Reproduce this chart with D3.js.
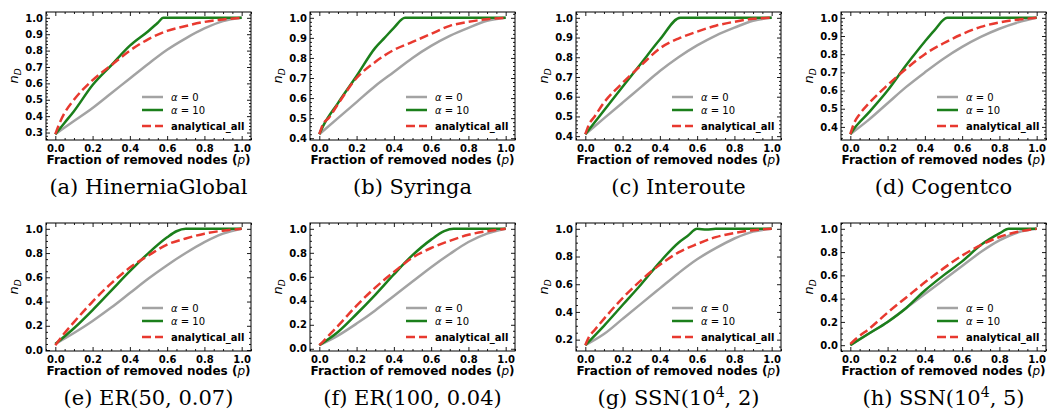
<!DOCTYPE html>
<html>
<head>
<meta charset="utf-8">
<script src="https://cdn.jsdelivr.net/npm/d3@7"></script>
<style>
  body { margin: 0; background: #fff; }
</style>
</head>
<body>
<script>
// captions under each panel ("^4" becomes a superscript)
var captions = ["(a) HinerniaGlobal", "(b) Syringa", "(c) Interoute", "(d) Cogentco",
                "(e) ER(50, 0.07)", "(f) ER(100, 0.04)", "(g) SSN(10^4, 2)", "(h) SSN(10^4, 5)"];

// p grids
var grayP = [0, 0.1, 0.2, 0.3, 0.4, 0.5, 0.6, 0.7, 0.8, 0.9, 1.0];
var redP  = [0, 0.02, 0.05, 0.1, 0.2, 0.3, 0.4, 0.5, 0.6, 0.7, 0.8, 0.9, 1.0];

// alpha = 0 (gray)
var alpha0 = [
    [0.29, 0.37, 0.45, 0.54, 0.63, 0.72, 0.805, 0.875, 0.935, 0.98, 1.0],
    [0.42, 0.50, 0.58, 0.66, 0.73, 0.80, 0.86, 0.91, 0.95, 0.985, 1.0],
    [0.41, 0.49, 0.57, 0.65, 0.73, 0.80, 0.86, 0.91, 0.95, 0.985, 1.0],
    [0.36, 0.44, 0.53, 0.62, 0.70, 0.775, 0.84, 0.895, 0.94, 0.975, 1.0],
    [0.05, 0.14, 0.24, 0.35, 0.47, 0.59, 0.70, 0.80, 0.89, 0.96, 1.0],
    [0.03, 0.11, 0.21, 0.32, 0.44, 0.56, 0.68, 0.79, 0.89, 0.96, 1.0],
    [0.16, 0.24, 0.35, 0.46, 0.57, 0.68, 0.78, 0.86, 0.93, 0.98, 1.0],
    [0.00, 0.10, 0.20, 0.32, 0.44, 0.56, 0.68, 0.80, 0.90, 0.97, 1.0]
];

// analytical_all (red dashed)
var analytical = [
    [0.29, 0.35, 0.42, 0.50, 0.62, 0.71, 0.80, 0.87, 0.92, 0.95, 0.975, 0.99, 1.0],
    [0.42, 0.47, 0.50, 0.57, 0.70, 0.78, 0.84, 0.88, 0.92, 0.96, 0.98, 0.993, 1.0],
    [0.41, 0.46, 0.50, 0.57, 0.67, 0.76, 0.845, 0.895, 0.93, 0.96, 0.98, 0.995, 1.0],
    [0.36, 0.42, 0.47, 0.53, 0.63, 0.72, 0.80, 0.86, 0.91, 0.95, 0.975, 0.99, 1.0],
    [0.04, 0.08, 0.14, 0.23, 0.40, 0.55, 0.68, 0.78, 0.87, 0.92, 0.96, 0.985, 1.0],
    [0.03, 0.06, 0.11, 0.19, 0.36, 0.51, 0.64, 0.76, 0.84, 0.90, 0.95, 0.98, 1.0],
    [0.16, 0.22, 0.27, 0.35, 0.50, 0.63, 0.74, 0.83, 0.89, 0.94, 0.97, 0.99, 1.0],
    [0.01, 0.04, 0.08, 0.14, 0.28, 0.41, 0.54, 0.66, 0.77, 0.86, 0.93, 0.975, 1.0]
];

// alpha = 10 (green), each with its own p points
var alpha10P = [
    [0, 0.05, 0.1, 0.2, 0.3, 0.4, 0.5, 0.55, 0.58, 0.62, 0.7, 1.0],
    [0, 0.02, 0.1, 0.2, 0.3, 0.35, 0.4, 0.46, 0.5, 1.0],
    [0, 0.1, 0.2, 0.3, 0.4, 0.51, 0.6, 1.0],
    [0, 0.02, 0.1, 0.2, 0.3, 0.33, 0.4, 0.45, 0.52, 0.6, 1.0],
    [0, 0.1, 0.2, 0.3, 0.4, 0.5, 0.6, 0.65, 0.7, 0.8, 1.0],
    [0, 0.1, 0.2, 0.3, 0.4, 0.5, 0.6, 0.67, 0.72, 0.8, 1.0],
    [0, 0.1, 0.2, 0.3, 0.4, 0.5, 0.55, 0.6, 0.65, 0.7, 1.0],
    [0, 0.1, 0.2, 0.3, 0.4, 0.5, 0.6, 0.7, 0.8, 0.85, 1.0]
];
var alpha10 = [
    [0.29, 0.36, 0.43, 0.59, 0.71, 0.83, 0.92, 0.97, 1.0, 1.0, 1.0, 1.0],
    [0.42, 0.46, 0.575, 0.71, 0.85, 0.90, 0.95, 1.0, 1.0, 1.0],
    [0.41, 0.53, 0.65, 0.77, 0.89, 1.0, 1.0, 1.0],
    [0.36, 0.39, 0.48, 0.60, 0.74, 0.78, 0.87, 0.93, 1.0, 1.0, 1.0],
    [0.05, 0.18, 0.33, 0.49, 0.65, 0.80, 0.93, 0.98, 1.0, 1.0, 1.0],
    [0.03, 0.14, 0.29, 0.45, 0.62, 0.78, 0.91, 0.98, 1.0, 1.0, 1.0],
    [0.16, 0.30, 0.45, 0.60, 0.76, 0.90, 0.95, 1.0, 0.995, 1.0, 1.0],
    [0.00, 0.10, 0.20, 0.32, 0.47, 0.60, 0.72, 0.86, 0.96, 1.0, 1.0]
];

var xTicks = [0, 0.2, 0.4, 0.6, 0.8, 1.0];
var yTickSteps = [0.1, 0.1, 0.1, 0.1, 0.2, 0.2, 0.2, 0.2];
var legendLabels = ["α = 0", "α = 10", "analytical_all"];

var w = 1049,
    h = 417,
    pw = 205,
    ph = 128,
    colLeft = [46, 310, 576, 841],
    rowTop = [12, 223],
    captionY = [194, 405];

var gray = "#a3a3a3", green = "#1b7f1b", red = "#e8392f";

var svg = d3.select("body").append("svg")
    .attr("width", w)
    .attr("height", h)
    .attr("font-family", "DejaVu Sans");

function stepRange(lo, hi, step) {
    var a = Math.ceil(lo / step - 1e-6), b = Math.floor(hi / step + 1e-6);
    return d3.range(a, b + 1).map(function(k) { return +(k * step).toFixed(3); });
}

function styleAxis(sel) {
    sel.select(".domain").remove();
    sel.attr("font-family", null).attr("font-size", null);
    sel.selectAll("line").attr("stroke", "#000").attr("stroke-width", 0.9);
    sel.selectAll("text")
        .attr("font-family", "DejaVu Sans")
        .attr("font-weight", "bold")
        .attr("font-size", "10px")
        .attr("fill", "#000");
}

captions.forEach(function(cap, i) {
    var col = i % 4, row = Math.floor(i / 4);
    var g = svg.append("g")
        .attr("transform", "translate(" + colLeft[col] + "," + rowTop[row] + ")");

    var grayPts = grayP.map(function(p, k) { return [p, alpha0[i][k]]; });
    var redPts = redP.map(function(p, k) { return [p, analytical[i][k]]; });
    var greenPts = alpha10P[i].map(function(p, k) { return [p, alpha10[i][k]]; });

    var all = alpha0[i].concat(analytical[i], alpha10[i]);
    var lo = d3.min(all), hi = d3.max(all), pad = 0.05 * (hi - lo);

    var x = d3.scaleLinear().domain([-0.05, 1.05]).range([0, pw]);
    var y = d3.scaleLinear().domain([lo - pad, hi + pad]).range([ph, 0]);

    var step = yTickSteps[i];
    var yMajor = stepRange(lo - pad, hi + pad, step);
    var yMinor = stepRange(lo - pad, hi + pad, step === 0.1 ? 0.02 : 0.05)
        .filter(function(v) { return yMajor.indexOf(v) < 0; });
    var xMinor = stepRange(-0.05, 1.05, 0.05)
        .filter(function(v) { return xTicks.indexOf(v) < 0; });

    // minor ticks
    g.append("g").attr("transform", "translate(0," + ph + ")")
        .call(d3.axisBottom(x).tickValues(xMinor).tickSize(-2).tickFormat(""))
        .call(styleAxis);
    g.append("g")
        .call(d3.axisTop(x).tickValues(xMinor).tickSize(-2).tickFormat(""))
        .call(styleAxis);
    g.append("g")
        .call(d3.axisLeft(y).tickValues(yMinor).tickSize(-2).tickFormat(""))
        .call(styleAxis);
    g.append("g").attr("transform", "translate(" + pw + ",0)")
        .call(d3.axisRight(y).tickValues(yMinor).tickSize(-2).tickFormat(""))
        .call(styleAxis);

    // major ticks
    g.append("g").attr("transform", "translate(0," + ph + ")")
        .call(d3.axisBottom(x).tickValues(xTicks).tickSize(-4).tickPadding(5).tickFormat(d3.format(".1f")))
        .call(styleAxis);
    g.append("g")
        .call(d3.axisTop(x).tickValues(xTicks).tickSize(-4).tickFormat(""))
        .call(styleAxis);
    g.append("g")
        .call(d3.axisLeft(y).tickValues(yMajor).tickSize(-4).tickPadding(3).tickFormat(d3.format(".1f")))
        .call(styleAxis);
    g.append("g").attr("transform", "translate(" + pw + ",0)")
        .call(d3.axisRight(y).tickValues(yMajor).tickSize(-4).tickFormat(""))
        .call(styleAxis);

    var line = d3.line()
        .x(function(d) { return x(d[0]); })
        .y(function(d) { return y(d[1]); })
        .curve(d3.curveMonotoneX);

    g.append("path").datum(grayPts)
        .attr("d", line).attr("fill", "none")
        .attr("stroke", gray).attr("stroke-width", 2.5);
    g.append("path").datum(greenPts)
        .attr("d", line).attr("fill", "none")
        .attr("stroke", green).attr("stroke-width", 2.5);
    g.append("path").datum(redPts)
        .attr("d", line).attr("fill", "none")
        .attr("stroke", red).attr("stroke-width", 2.5)
        .attr("stroke-dasharray", "9,4");

    // frame
    g.append("rect")
        .attr("width", pw).attr("height", ph)
        .attr("fill", "none").attr("stroke", "#000").attr("stroke-width", 1);

    // legend
    var legY = [ph - 43, ph - 30, ph - 14];
    var legColors = [gray, green, red];
    legendLabels.forEach(function(lab, k) {
        g.append("line")
            .attr("x1", pw - 109).attr("x2", pw - 88)
            .attr("y1", legY[k]).attr("y2", legY[k])
            .attr("stroke", legColors[k]).attr("stroke-width", 2.5)
            .attr("stroke-dasharray", k === 2 ? "9,4" : null);
        var t = g.append("text")
            .attr("x", pw - 80).attr("y", legY[k])
            .attr("dy", "0.35em")
            .attr("font-size", "10px");
        if (k < 2) {
            t.append("tspan").attr("font-style", "italic").text("α");
            t.append("tspan").attr("xml:space", "preserve").text(lab.slice(1));
        } else {
            t.attr("font-weight", "bold").text(lab);
        }
    });

    // x label
    var xl = g.append("text")
        .attr("x", pw / 2).attr("y", ph + 24)
        .attr("text-anchor", "middle")
        .attr("font-size", "12px")
        .attr("font-weight", "bold");
    xl.append("tspan").text("Fraction of removed nodes (");
    xl.append("tspan").attr("font-style", "italic").attr("font-weight", "normal").text("p");
    xl.append("tspan").text(")");

    // y label
    var yl = g.append("text")
        .attr("transform", "translate(-28," + (ph / 2) + ") rotate(-90)")
        .attr("text-anchor", "middle")
        .attr("font-size", "13px")
        .attr("font-style", "italic");
    yl.append("tspan").text("n");
    yl.append("tspan").attr("font-size", "9px").attr("dy", "3").text("D");

    // caption
    var ct = svg.append("text")
        .attr("x", colLeft[col] + pw / 2)
        .attr("y", captionY[row])
        .attr("text-anchor", "middle")
        .attr("font-family", "DejaVu Serif")
        .attr("font-size", "21px");
    var parts = cap.split("^");
    ct.append("tspan").text(parts[0]);
    if (parts.length > 1) {
        ct.append("tspan").attr("font-size", "14px").attr("dy", "-8").text(parts[1][0]);
        ct.append("tspan").attr("dy", "8").text(parts[1].slice(1));
    }
});
</script>
</body>
</html>
